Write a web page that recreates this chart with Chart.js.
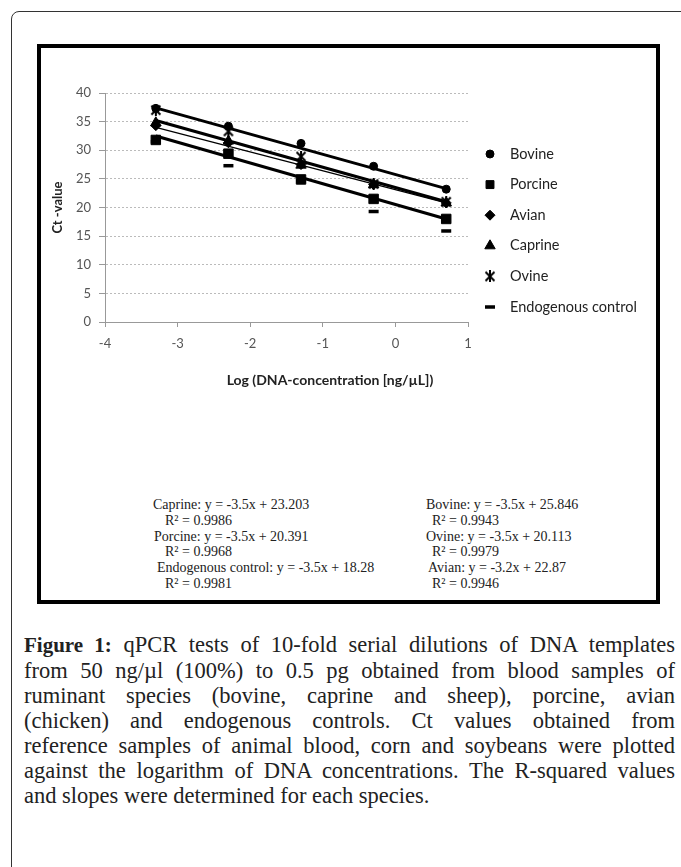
<!DOCTYPE html>
<html>
<head>
<meta charset="utf-8">
<script src="https://cdn.jsdelivr.net/npm/chart.js@4.4.0/dist/chart.umd.min.js"></script>
<style>
  body { margin: 0; background: #fff; width: 681px; height: 867px; overflow: hidden; position: relative; }
  #outer { position: absolute; left: 11px; top: 11px; width: 720px; height: 900px; border: 1.5px solid #333; border-radius: 8px; }
  #frame { position: absolute; left: 37px; top: 44px; width: 623px; height: 560px; border: 4px solid #000; box-sizing: border-box; }
  #chartBox { position: absolute; left: 40px; top: 47px; width: 617px; height: 345px; }
  .eq { position: absolute; font-family: "Liberation Serif"; font-size: 14px; line-height: 16px; color: #222; white-space: nowrap; }
  #caption { position: absolute; left: 24px; top: 632px; width: 651px; font-family: "Liberation Serif"; font-size: 22.5px; line-height: 25px; color: #222; }
  #caption div { text-align: justify; text-align-last: justify; white-space: nowrap; }
  #caption div.last { text-align-last: left; }
  #caption b { font-size: 21px; }
</style>
</head>
<body>
<div id="outer"></div>
<div id="frame"></div>
<div id="chartBox"><canvas id="myCanvas" width="617" height="345"></canvas></div>

<div class="eq" style="left:153px; top:497px">Caprine: y = -3.5x + 23.203</div>
<div class="eq" style="left:165px; top:513px">R² = 0.9986</div>
<div class="eq" style="left:154px; top:529px">Porcine: y = -3.5x + 20.391</div>
<div class="eq" style="left:165px; top:544px">R² = 0.9968</div>
<div class="eq" style="left:157px; top:560px">Endogenous control: y = -3.5x + 18.28</div>
<div class="eq" style="left:165px; top:576px">R² = 0.9981</div>

<div class="eq" style="left:426px; top:497px">Bovine: y = -3.5x + 25.846</div>
<div class="eq" style="left:432px; top:513px">R² = 0.9943</div>
<div class="eq" style="left:426px; top:529px">Ovine: y = -3.5x + 20.113</div>
<div class="eq" style="left:432px; top:544px">R² = 0.9979</div>
<div class="eq" style="left:428px; top:560px">Avian: y = -3.2x + 22.87</div>
<div class="eq" style="left:432px; top:576px">R² = 0.9946</div>

<div id="caption">
  <div><b>Figure 1:</b> qPCR tests of 10-fold serial dilutions of DNA templates</div>
  <div>from 50 ng/µl (100%) to 0.5 pg obtained from blood samples of</div>
  <div>ruminant species (bovine, caprine and sheep), porcine, avian</div>
  <div>(chicken) and endogenous controls. Ct values obtained from</div>
  <div>reference samples of animal blood, corn and soybeans were plotted</div>
  <div>against the logarithm of DNA concentrations. The R-squared values</div>
  <div class="last">and slopes were determined for each species.</div>
</div>

<script>
// log of DNA concentration for each dilution
var logConc = [-3.3, -2.3, -1.3, -0.3, 0.7];

// Ct values
var bovine = [37.3, 34.2, 31.2, 27.2, 23.2];
var porcine = [31.8, 29.4, 24.9, 21.5, 18.0];
var avian = [34.3, 31.3, 27.5, 24.0, 20.8];
var caprine = [34.8, 31.6, 27.4, 24.0, 20.8];
var ovine = [37.0, 33.3, 28.9, 24.1, 21.0];
var endogenous = [31.5, 27.3, 24.6, 19.3, 15.9];

// trend lines, ends at first and last dilution
var fitX = [-3.3, 0.7];
var bovineFit = [37.4, 23.3];
var caprineFit = [35.2, 21.0];
var avianFit = [34.0, 20.8];
var porcineFit = [32.5, 18.0];

var seriesNames = ["Bovine", "Porcine", "Avian", "Caprine", "Ovine", "Endogenous control"];

function toPoints(xs, ys) {
    return xs.map(function (x, i) { return { x: x, y: ys[i] }; });
}

// excel-like star marker
var starMark = document.createElement('canvas');
starMark.width = 12;
starMark.height = 12;
(function () {
    var c = starMark.getContext('2d');
    c.strokeStyle = '#000';
    c.lineWidth = 2;
    c.beginPath();
    c.moveTo(1.5, 1.5); c.lineTo(10.5, 10.5);
    c.moveTo(10.5, 1.5); c.lineTo(1.5, 10.5);
    c.moveTo(6, 0); c.lineTo(6, 12);
    c.stroke();
})();

function markerSet(label, values, style, radius, order) {
    return {
        label: label,
        data: toPoints(logConc, values),
        showLine: false,
        pointStyle: style,
        pointRadius: radius,
        pointHoverRadius: radius,
        pointBackgroundColor: '#000',
        pointBorderColor: '#000',
        pointBorderWidth: style === 'line' ? 3.5 : 1,
        legend: true,
        order: order
    };
}

function fitSet(values, width) {
    return {
        label: '',
        data: toPoints(fitX, values),
        showLine: true,
        borderColor: '#000',
        borderWidth: width,
        pointRadius: 0,
        pointHoverRadius: 0,
        legend: false,
        order: 10
    };
}

var datasets = [
    markerSet(seriesNames[0], bovine, 'circle', 4, 4),
    markerSet(seriesNames[1], porcine, 'rect', 6.7, 2),
    markerSet(seriesNames[2], avian, 'rectRot', 5, 3),
    markerSet(seriesNames[3], caprine, 'triangle', 6, 5),
    markerSet(seriesNames[4], ovine, starMark, 6, 1),
    markerSet(seriesNames[5], endogenous, 'line', 5, 6),
    fitSet(bovineFit, 3),
    fitSet(caprineFit, 3),
    fitSet(avianFit, 1.3),
    fitSet(porcineFit, 3)
];

// legend on the right plus x title, drawn on the chart canvas
var sideLegend = {
    id: 'sideLegend',
    afterDraw: function (chart) {
        var ctx = chart.ctx;
        ctx.save();
        ctx.font = '14.5px Lato';
        ctx.textBaseline = 'middle';
        ctx.textAlign = 'left';
        var row = 0;
        chart.data.datasets.forEach(function (ds) {
            if (!ds.legend) return;
            var y = 107 + row * 30.6;
            ctx.fillStyle = '#000';
            ctx.strokeStyle = '#000';
            ctx.lineWidth = ds.pointBorderWidth;
            Chart.helpers.drawPoint(ctx, {
                pointStyle: ds.pointStyle,
                radius: ds.pointStyle === 'rect' ? 5.6 : ds.pointRadius,
                rotation: 0,
                borderWidth: ds.pointBorderWidth
            }, 450, y);
            ctx.fillStyle = '#222';
            ctx.fillText(ds.label, 470, y);
            row++;
        });

        ctx.font = 'bold 14px Lato';
        ctx.textAlign = 'center';
        ctx.fillStyle = '#222';
        ctx.fillText('Log (DNA-concentration [ng/\u00B5L])', 290, 333);
        ctx.restore();
    }
};

var canvas = document.getElementById('myCanvas');
var myChart = new Chart(canvas.getContext('2d'), {
    type: 'scatter',
    data: { datasets: datasets },
    plugins: [sideLegend],
    options: {
        responsive: false,
        animation: false,
        devicePixelRatio: 1,
        layout: { padding: { left: 0, top: 46, right: 189, bottom: 0 } },
        plugins: {
            legend: { display: false },
            tooltip: { enabled: false }
        },
        scales: {
            x: {
                type: 'linear',
                min: -4,
                max: 1,
                ticks: { stepSize: 1, color: '#555', font: { family: 'Lato', size: 13 }, padding: 9 },
                grid: { drawOnChartArea: false, drawTicks: true, tickLength: 5, color: '#999' },
                border: { color: '#999', width: 1 },
                afterFit: function (scale) { scale.height = 70; }
            },
            y: {
                min: 0,
                max: 40,
                ticks: { stepSize: 5, color: '#555', font: { family: 'Lato', size: 13 }, padding: 8 },
                grid: { color: '#bbb', tickLength: 6, tickColor: '#999' },
                border: { color: '#999', width: 1, dash: [2, 2] },
                title: { display: true, text: 'Ct -value', color: '#222', font: { family: 'Lato', size: 13, weight: 'bold' }, padding: { top: 10, bottom: 0 } },
                afterFit: function (scale) { scale.width = 65; }
            }
        }
    }
});
</script>
</body>
</html>
